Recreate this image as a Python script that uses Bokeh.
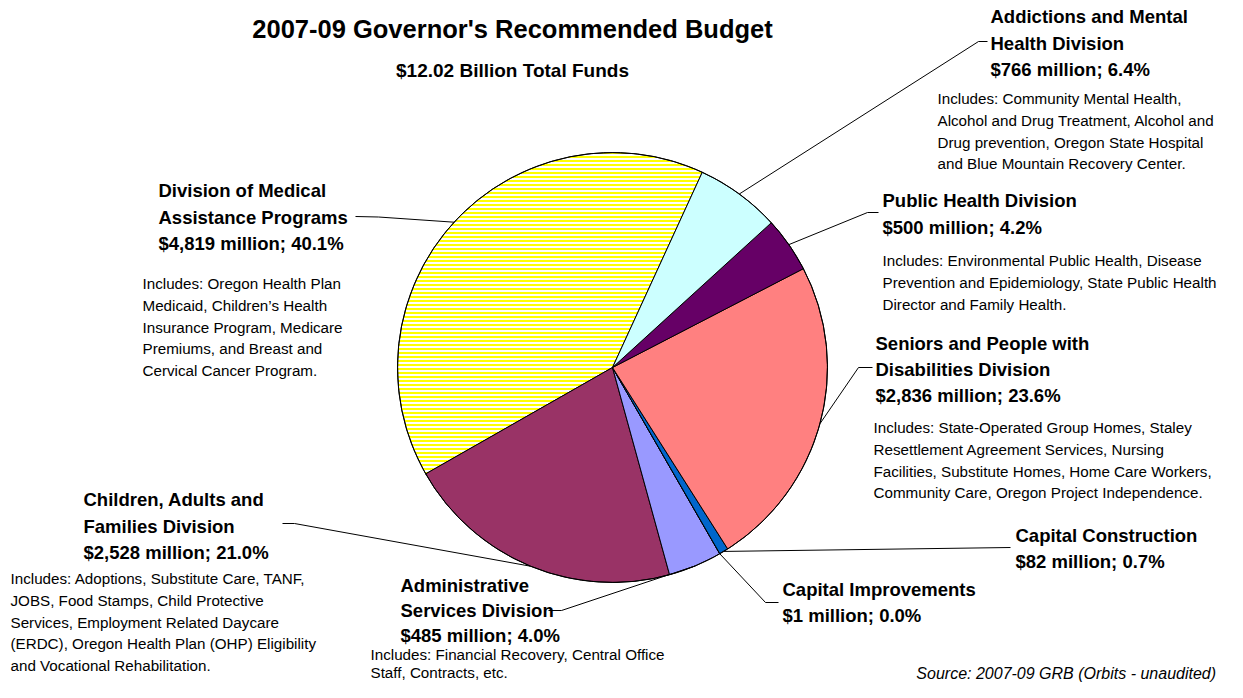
import numpy as np
from bokeh.plotting import figure
from bokeh.models import Range1d, ColumnDataSource
from bokeh.core.properties import value
from bokeh.embed import file_html
from bokeh.resources import INLINE

# ---------------- data ----------------
divisions = ["Division of Medical Assistance Programs",
             "Children, Adults and Families Division",
             "Administrative Services Division",
             "Capital Improvements",
             "Capital Construction",
             "Seniors and People with Disabilities Division",
             "Public Health Division",
             "Addictions and Mental Health Division"]
amounts = [4819, 2528, 485, 1, 82, 2836, 500, 766]          # $ million
percents = [40.1, 21.0, 4.0, 0.0, 0.7, 23.6, 4.2, 6.4]
name_lines = [["Division of Medical", "Assistance Programs"],
              ["Children, Adults and", "Families Division"],
              ["Administrative", "Services Division"],
              ["Capital Improvements"],
              ["Capital Construction"],
              ["Seniors and People with", "Disabilities Division"],
              ["Public Health Division"],
              ["Addictions and Mental", "Health Division"]]
includes = [["Includes: Oregon Health Plan", "Medicaid, Children\u2019s Health",
             "Insurance Program, Medicare", "Premiums, and Breast and",
             "Cervical Cancer Program."],
            ["Includes: Adoptions, Substitute Care, TANF,", "JOBS, Food Stamps, Child Protective",
             "Services, Employment Related Daycare", "(ERDC), Oregon Health Plan (OHP) Eligibility",
             "and Vocational Rehabilitation."],
            ["Includes: Financial Recovery, Central Office", "Staff, Contracts, etc."],
            [],
            [],
            ["Includes: State-Operated Group Homes, Staley", "Resettlement Agreement Services, Nursing",
             "Facilities, Substitute Homes, Home Care Workers,", "Community Care, Oregon Project Independence."],
            ["Includes: Environmental Public Health, Disease", "Prevention and Epidemiology, State Public Health",
             "Director and Family Health."],
            ["Includes: Community Mental Health,", "Alcohol and Drug Treatment, Alcohol and",
             "Drug prevention, Oregon State Hospital", "and Blue Mountain Recovery Center."]]
title = "2007-09 Governor's Recommended Budget"
subtitle = "$12.02 Billion Total Funds"
source_note = "Source:  2007-09 GRB (Orbits - unaudited)"

# ---------------- style / layout ----------------
colors = ["#FFFF00", "#993366", "#9999FF", "#99CCFF", "#0066CC", "#FF8080", "#660066", "#CCFFFF"]
hatches = ["horizontal_line", " ", " ", " ", " ", " ", " ", " "]
W, H = 1227, 682
def Y(sy):  # screen y (px from top) -> data y
    return H - sy

cx, cy, R = 612, 367, 215
start_deg = 65.3
label_pos = [(158, 190), (83, 499), (400, 585), (782, 589), (1015, 535), (875, 343), (882, 200), (990, 16)]
incl_pos = [(142, 283), (10, 578), (370, 654), None, None, (873, 427), (882, 260), (937, 98)]
inc_dy = [21.8, 21.8, 17.5, 0, 0, 21.8, 21.8, 21.8]
bold_dy = [26.5, 26.5, 25, 26, 26, 26, 26.5, 26.5]
elbows = [[(355, 216), (378, 216.5)],
          [(282, 523), (294, 523)],
          [(548, 610), (561, 610)],
          [(778, 602), (765, 602)],
          [(1010, 547)],
          [(872, 367), (858, 367)],
          [(878, 212), (867, 212)],
          [(987, 41), (978, 41)]]

p = figure(width=W, height=H, output_backend="svg", toolbar_location=None,
           x_range=Range1d(0, W), y_range=Range1d(0, H), min_border=0)
p.axis.visible = False
p.grid.visible = False
p.outline_line_color = None
p.background_fill_color = "white"
p.border_fill_color = "white"

# ---------------- pie ----------------
vals = np.array(amounts, dtype=float)
frac = vals / vals.sum()
a0 = np.radians(start_deg)
ends = a0 + 2 * np.pi * np.cumsum(frac)
starts = ends - 2 * np.pi * frac
pie_src = ColumnDataSource(dict(start=starts, end=ends, color=colors, hatch=hatches,
                                name=divisions, x=[cx] * len(vals), y=[Y(cy)] * len(vals)))
p.wedge(x="x", y="y", radius=R, start_angle="start", end_angle="end", source=pie_src,
        fill_color="color", line_color="black", line_width=1,
        hatch_pattern="hatch", hatch_color="white", hatch_scale=4, hatch_weight=2)
p.circle(x=[cx], y=[Y(cy)], radius=R, fill_color=None, line_color="black", line_width=1)

# ---------------- leader lines ----------------
for i in range(len(vals)):
    mid = (starts[i] + ends[i]) / 2
    ax, ay = cx + R * np.cos(mid), cy - R * np.sin(mid)
    pts = elbows[i] + [(ax, ay)]
    p.line(x=[q[0] for q in pts], y=[Y(q[1]) for q in pts], line_color="black", line_width=1)

# ---------------- labels ----------------
bx, by, bt = [], [], []
ix, iy, it = [], [], []
for i in range(len(vals)):
    lines = name_lines[i] + ["${:,} million; {:.1f}%".format(amounts[i], percents[i])]
    x0, y0 = label_pos[i]
    for k, s in enumerate(lines):
        bx.append(x0); by.append(Y(y0 + k * bold_dy[i])); bt.append(s)
    if incl_pos[i] is not None:
        x1, y1 = incl_pos[i]
        for k, s in enumerate(includes[i]):
            ix.append(x1); iy.append(Y(y1 + k * inc_dy[i])); it.append(s)

p.text(x="x", y="y", text="t", source=ColumnDataSource(dict(x=bx, y=by, t=bt)),
       text_font=value("Liberation Sans"), text_font_style="bold", text_font_size="18.5px",
       text_color="black", text_align="left", text_baseline="middle")
p.text(x="x", y="y", text="t", source=ColumnDataSource(dict(x=ix, y=iy, t=it)),
       text_font=value("Liberation Sans"), text_font_size="15.2px",
       text_color="black", text_align="left", text_baseline="middle")

p.text(x=[512], y=[Y(28)], text=[title], text_font=value("Liberation Sans"), text_font_style="bold",
       text_font_size="25.5px", text_color="black", text_align="center", text_baseline="middle")
p.text(x=[512], y=[Y(70)], text=[subtitle], text_font=value("Liberation Sans"), text_font_style="bold",
       text_font_size="19px", text_color="black", text_align="center", text_baseline="middle")
p.text(x=[1220], y=[Y(673)], text=[source_note], text_font=value("Liberation Sans"), text_font_style="italic",
       text_font_size="16px", text_color="black", text_align="right", text_baseline="middle")

open("out.html", "w").write(file_html(p, INLINE))
